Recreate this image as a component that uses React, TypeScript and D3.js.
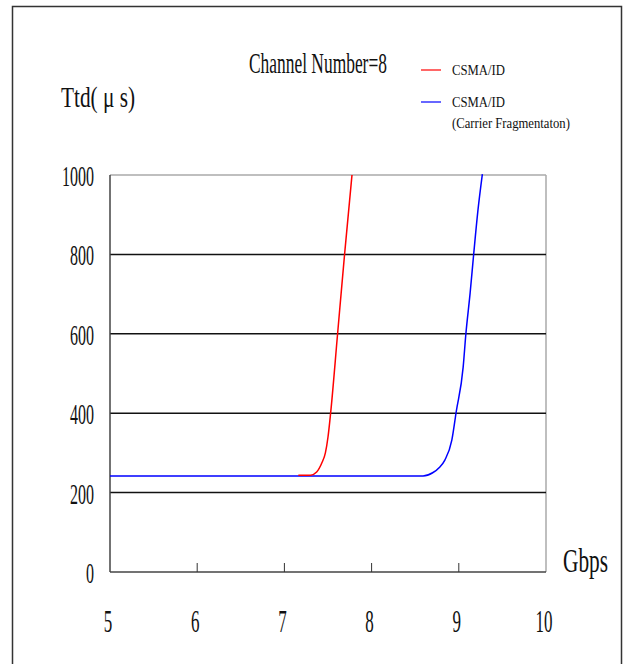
import React from "react";
import * as d3 from "d3";

const xTicks = [5, 6, 7, 8, 9, 10];
const yTicks = [0, 200, 400, 600, 800, 1000];
const gridValues = [200, 400, 600, 800];

const redX = [7.16, 7.3, 7.37, 7.43, 7.47, 7.5, 7.53, 7.61, 7.69, 7.775];
const redY = [244, 244, 252, 275, 300, 340, 400, 600, 800, 1000];

const blueX = [5, 8.59, 8.7, 8.78, 8.84, 8.92, 8.97, 9.05, 9.08, 9.13, 9.17, 9.22, 9.27];
const blueY = [242, 242, 250, 264, 282, 332, 403, 516, 597, 703, 799, 912, 1002];

const seriesNames = ["CSMA/ID", "CSMA/ID"];
const seriesSub = ["", "(Carrier Fragmentaton)"];
const seriesColors = ["#ff0000", "#0000ff"];

const W = 623;
const H = 664;
const FONT = "'Liberation Serif', 'Times New Roman', serif";

let ctx: CanvasRenderingContext2D | null = null;
function measure(text: string, size: number): number {
  if (!ctx) ctx = document.createElement("canvas").getContext("2d");
  if (!ctx) return text.length * size * 0.5;
  ctx.font = `${size}px ${FONT}`;
  return ctx.measureText(text).width;
}

function CText(props: { x: number; y: number; size: number; width: number; children: string }) {
  const { x, y, size, width, children } = props;
  const natural = measure(children, size);
  const s = natural > 0 ? width / natural : 1;
  return (
    <text
      transform={`translate(${x},${y}) scale(${s},1)`}
      fontSize={size}
      fill="#111"
      fontFamily={FONT}
    >
      {children}
    </text>
  );
}

export default function App() {
  const x = d3.scaleLinear().domain([5, 10]).range([110, 546]);
  const y = d3.scaleLinear().domain([0, 1000]).range([572, 175]);
  const line = d3
    .line<[number, number]>()
    .x((d) => x(d[0]))
    .y((d) => y(d[1]))
    .curve(d3.curveMonotoneX);
  const red: [number, number][] = redX.map((v, i) => [v, redY[i]]);
  const blue: [number, number][] = blueX.map((v, i) => [v, blueY[i]]);

  const yLabelW = (t: number) => String(t).length * 8;

  return (
    <svg
      width={W}
      height={H}
      style={{ position: "absolute", left: 0, top: 0, background: "#fff" }}
      fontFamily={FONT}
    >
      <rect x={0} y={0} width={W} height={H} fill="#fff" />
      {/* outer frame */}
      <path d={`M12.5,${H} V6.5 H621.5 V${H}`} fill="none" stroke="#333" strokeWidth={1.5} />

      {/* plot box top and right */}
      <line x1={x(5)} x2={x(10)} y1={y(1000)} y2={y(1000)} stroke="#aaa" strokeWidth={1.5} />
      <line x1={x(10)} x2={x(10)} y1={y(1000)} y2={y(0)} stroke="#aaa" strokeWidth={1.5} />
      {/* grid */}
      {gridValues.map((v) => (
        <line key={v} x1={x(5)} x2={x(10)} y1={y(v)} y2={y(v)} stroke="#111" strokeWidth={1.5} />
      ))}
      {/* axes */}
      <line x1={x(5)} x2={x(5)} y1={y(1000)} y2={y(0)} stroke="#444" strokeWidth={1.5} />
      <line x1={x(5)} x2={x(10)} y1={y(0)} y2={y(0)} stroke="#444" strokeWidth={1.5} />
      {xTicks.slice(1, -1).map((t) => (
        <line key={t} x1={x(t)} x2={x(t)} y1={y(0)} y2={y(0) - 9} stroke="#333" strokeWidth={1} />
      ))}

      {/* series */}
      <path d={line(blue) || ""} fill="none" stroke={seriesColors[1]} strokeWidth={1.5} />
      <path d={line(red) || ""} fill="none" stroke={seriesColors[0]} strokeWidth={1.5} />

      {/* y tick labels */}
      {yTicks.map((t) => (
        <CText key={t} x={94 - yLabelW(t)} y={y(t) + 11} size={30} width={yLabelW(t)}>
          {String(t)}
        </CText>
      ))}
      {/* x tick labels */}
      {xTicks.map((t) => {
        const w = String(t).length * 8.5;
        return (
          <CText key={t} x={x(t) - w / 2 - 2} y={632} size={32} width={w}>
            {String(t)}
          </CText>
        );
      })}

      {/* axis titles */}
      <CText x={563} y={572} size={34} width={45}>
        Gbps
      </CText>
      <CText x={61} y={107} size={30} width={74}>
        Ttd( μ s)
      </CText>

      {/* title */}
      <CText x={249} y={73} size={29} width={138}>
        Channel Number=8
      </CText>

      {/* legend */}
      {seriesNames.map((n, i) => (
        <g key={i}>
          <line
            x1={421}
            x2={441}
            y1={70 + i * 32}
            y2={70 + i * 32}
            stroke={seriesColors[i]}
            strokeWidth={1.2}
          />
          <CText x={452} y={75 + i * 32} size={15} width={53}>
            {n}
          </CText>
          {seriesSub[i] ? (
            <CText x={452} y={96 + i * 32} size={15} width={118}>
              {seriesSub[i]}
            </CText>
          ) : null}
        </g>
      ))}
    </svg>
  );
}
